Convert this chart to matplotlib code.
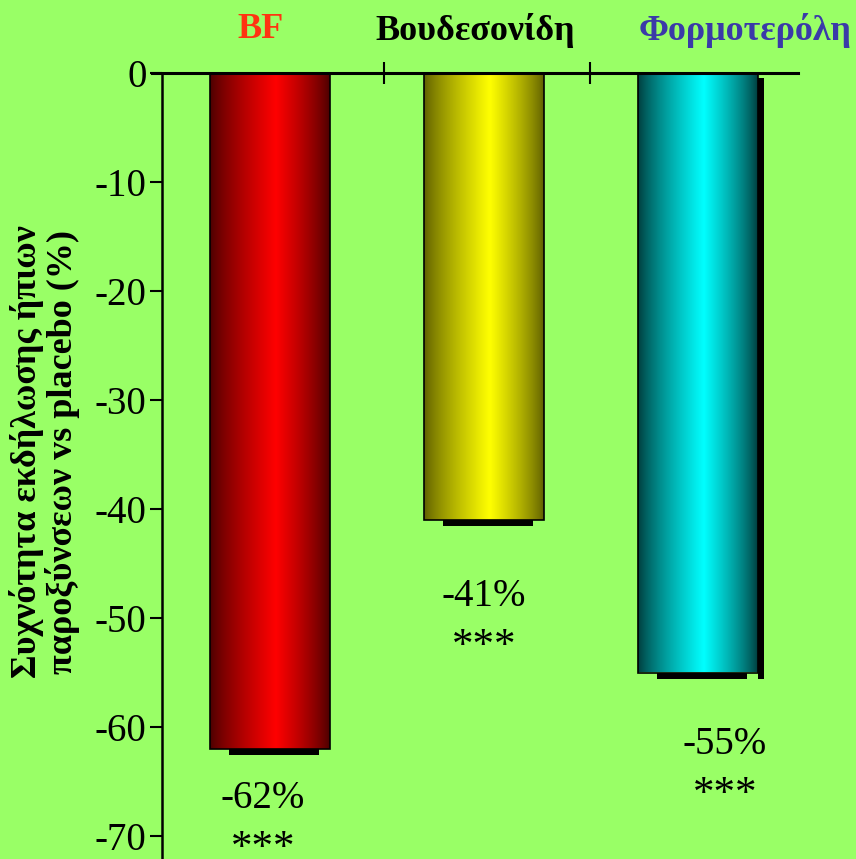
import numpy as np
import matplotlib
matplotlib.use("Agg")
import matplotlib.pyplot as plt
from matplotlib.colors import to_rgb

plt.rcParams['font.family'] = ['Liberation Serif', 'DejaVu Serif']

# data
groups = ["BF", "Βουδεσονίδη", "Φορμοτερόλη"]
values = [-62, -41, -55]
value_labels = ["-62%", "-41%", "-55%"]
signif = ["***", "***", "***"]
yticks = [0, -10, -20, -30, -40, -50, -60, -70]

# styling
bg = "#99ff66"
title_colors = ["#ff3311", "#000000", "#3a3aa8"]
bar_dark = ["#4a0000", "#5e5e00", "#003c3c"]
bar_light = ["#ff0000", "#ffff00", "#00ffff"]
title_dx = [-10, -9, 47]          # px offsets of the group names
label_dx = [-7, 0, 27]            # px offsets of the value labels
label_dy = [-50, -77, -72]

fig = plt.figure(figsize=(8.56, 8.59), dpi=100, facecolor=bg)
ax = fig.add_axes([162 / 856, 1 - 836 / 859, 636 / 856, 763 / 859])
ax.set_facecolor(bg)

x = np.arange(len(values))
width = 0.56
ax.set_xlim(-0.505, 2.467)
ax.set_ylim(-70, 0)

px = 72 / 100  # points per pixel

for i, v in enumerate(values):
    x0, x1 = x[i] - width / 2, x[i] + width / 2
    # drop shadow under the bar
    ax.add_patch(plt.Rectangle((x[i] - 0.19, v - 0.6), 0.42, 0.6,
                               facecolor="black", edgecolor="none", zorder=1))
    if i == 2:
        ax.add_patch(plt.Rectangle((x1, v - 0.6), 0.03, -v + 0.1,
                                   facecolor="black", edgecolor="none", zorder=1))
    # cylinder-like horizontal gradient
    t = np.linspace(0, 1, 256)
    prof = np.where(t < 0.55, t / 0.55, (1 - t) / 0.45)
    prof = np.clip(prof, 0, 1) ** 0.8
    d = np.array(to_rgb(bar_dark[i]))
    l = np.array(to_rgb(bar_light[i]))
    img = d[None, None, :] + (l - d)[None, None, :] * prof[None, :, None]
    ax.imshow(img, extent=(x0, x1, v, 0), aspect="auto", zorder=2,
              interpolation="bilinear")
    ax.bar(x[i], v, width=width, facecolor="none", edgecolor="black",
           linewidth=1.2, zorder=3)

    ax.annotate(value_labels[i], xy=(x[i], v),
                xytext=(label_dx[i] * px, label_dy[i] * px),
                textcoords="offset points", ha="center", va="center",
                fontsize=28)
    ax.annotate(signif[i], xy=(x[i], v),
                xytext=(label_dx[i] * px, (label_dy[i] - 50) * px),
                textcoords="offset points", ha="center", va="center",
                fontsize=31, annotation_clip=False)
    ax.annotate(groups[i], xy=(x[i], 0),
                xytext=(title_dx[i] * px, 43 * px),
                textcoords="offset points", ha="center", va="center",
                fontsize=26, fontweight="bold", color=title_colors[i],
                annotation_clip=False)

# zero line across the top
ax.axhline(0, color="black", linewidth=2.2, zorder=4, clip_on=False,
           xmin=-0.015)

ax.set_xlim(-0.505, 2.467)
ax.set_ylim(-70, 0)
ax.set_yticks(yticks)
ax.set_yticklabels([str(t) for t in yticks], fontsize=28)
ax.tick_params(axis="y", direction="out", length=9, width=1.5, pad=2)

ax.set_xticks([0.533, 1.495])
ax.tick_params(axis="x", top=True, bottom=False, labeltop=False,
               labelbottom=False, direction="inout", length=16, width=1.5)

for s in ["right", "bottom", "top"]:
    ax.spines[s].set_visible(False)
ax.spines["left"].set_linewidth(1.8)
ax.spines["left"].set_bounds(-72, 0)

fig.text(27 / 856, 1 - 452 / 859, "Συχνότητα εκδήλωσης ήπιων",
         rotation=90, ha="center", va="center", fontsize=26, fontweight="bold")
fig.text(63 / 856, 1 - 452 / 859, "παροξύνσεων vs placebo (%)",
         rotation=90, ha="center", va="center", fontsize=26, fontweight="bold")

fig.savefig("out.png", dpi=100, facecolor=bg)
